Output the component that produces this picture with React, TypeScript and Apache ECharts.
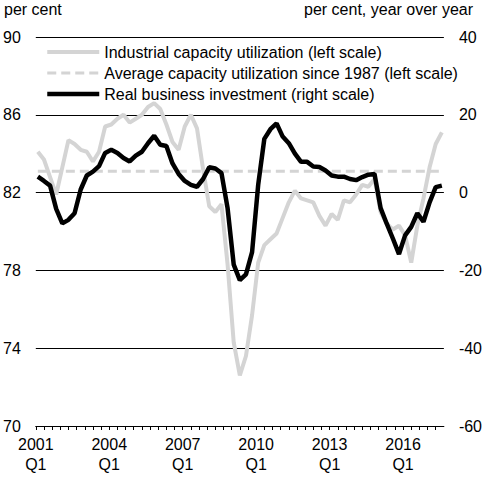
import React, { useEffect, useRef } from "react";
import * as echarts from "echarts";

// Quarterly data, 2001 Q1 .. 2017 Q3
const startYear = 2001;
const capacityUtilization = [
  84.1, 83.7, 82.8, 81.9, 83.3, 84.7, 84.5, 84.2, 84.1, 83.6,
  84.1, 85.4, 85.5, 85.8, 86.0, 85.6, 85.8, 86.0, 86.4, 86.6,
  86.3, 85.5, 84.6, 84.2, 85.4, 86.0, 85.3, 83.2, 81.3, 81.0,
  81.4, 78.3, 74.3, 72.6, 73.6, 75.7, 78.4, 79.3, 79.6, 79.9,
  80.7, 81.5, 82.1, 81.7, 81.6, 81.5, 80.8, 80.3, 80.9, 80.6,
  81.6, 81.5, 81.9, 82.4, 82.3, 82.7, 81.0, 80.4, 80.1, 80.3,
  79.8, 78.4, 80.3, 81.7, 83.3, 84.5, 85.1,
];
const businessInvestment = [
  4.1, 3.0, 1.8, -4.2, -7.9, -7.0, -5.3, 0.8, 4.4, 5.4,
  6.8, 10.2, 11.0, 10.2, 8.9, 8.0, 9.5, 10.5, 12.7, 14.6,
  12.3, 12.0, 7.5, 4.8, 3.0, 2.0, 1.5, 3.5, 6.5, 6.2,
  5.0, -4.0, -18.5, -22.5, -21.0, -15.3, 2.0, 13.8, 16.3, 17.8,
  14.4, 12.7, 10.0, 7.9, 7.9, 6.7, 6.6, 5.7, 4.4, 4.1,
  4.1, 3.5, 3.2, 4.0, 4.6, 4.8, -4.0, -8.0, -11.8, -15.8,
  -11.0, -8.8, -5.3, -7.5, -2.5, 1.4, 1.8,
];
const averageCapacity = 83.1;
const labelYears = [2001, 2004, 2007, 2010, 2013, 2016];

const seriesNames = [
  "Industrial capacity utilization (left scale)",
  "Average capacity utilization since 1987 (left scale)",
  "Real business investment (right scale)",
];

const FONT = "'Liberation Sans', Arial, sans-serif";

// month offset (from Jan 2001) of the middle of quarter i
const monthOf = (i: number) => i * 3 + 1;

export default function App() {
  const ref = useRef<HTMLDivElement>(null);

  useEffect(() => {
    if (!ref.current) return;
    const chart = echarts.init(ref.current, undefined, { renderer: "svg" });
    const last = capacityUtilization.length - 1;

    chart.setOption({
      animation: false,
      backgroundColor: "#ffffff",
      textStyle: { fontFamily: FONT, color: "#000" },
      grid: { left: 35, right: 40, top: 37, bottom: 59, containLabel: false },
      legend: {
        orient: "vertical",
        left: 40,
        top: 39,
        itemWidth: 52,
        itemHeight: 14,
        itemGap: 5,
        itemStyle: { opacity: 0 },
        textStyle: { fontFamily: FONT, fontSize: 16, color: "#000" },
        data: [
          { name: seriesNames[0], lineStyle: { width: 4 } },
          { name: seriesNames[1], lineStyle: { width: 3 } },
          { name: seriesNames[2], lineStyle: { width: 4.5 } },
        ],
        selectedMode: false,
      },
      xAxis: {
        type: "value",
        min: 0,
        max: 200,
        interval: 4,
        axisLine: { show: true, onZero: false, lineStyle: { color: "#000", width: 1 } },
        axisTick: { show: true, inside: false, length: 4, lineStyle: { color: "#000" } },
        splitLine: { show: false },
        axisLabel: {
          margin: 8,
          fontSize: 16,
          lineHeight: 20,
          color: "#000",
          fontFamily: FONT,
          showMinLabel: true,
          showMaxLabel: false,
          formatter: (v: number) => {
            const y = startYear + v / 12;
            return labelYears.includes(y) ? `${y}\nQ1` : "";
          },
        },
      },
      yAxis: [
        {
          type: "value",
          min: 70,
          max: 90,
          interval: 4,
          position: "left",
          axisLine: { show: false },
          axisTick: { show: false },
          splitLine: { show: true, lineStyle: { color: "#000", width: 1 } },
          axisLabel: { margin: 15, fontSize: 16, color: "#000", fontFamily: FONT },
        },
        {
          type: "value",
          min: -60,
          max: 40,
          interval: 20,
          position: "right",
          axisLine: { show: false },
          axisTick: { show: false },
          splitLine: { show: false },
          axisLabel: { margin: 15, fontSize: 16, color: "#000", fontFamily: FONT },
        },
      ],
      graphic: [
        {
          type: "text",
          left: 4,
          top: 1,
          style: { text: "per cent", font: `16px ${FONT}`, fill: "#000" },
        },
        {
          type: "text",
          right: 12,
          top: 1,
          style: { text: "per cent, year over year", font: `16px ${FONT}`, fill: "#000" },
        },
      ],
      series: [
        {
          name: seriesNames[1],
          type: "line",
          yAxisIndex: 0,
          symbol: "none",
          z: 2,
          lineStyle: { color: "#d4d4d4", width: 3, type: [9, 5] },
          itemStyle: { color: "#d4d4d4" },
          data: [
            [monthOf(0), averageCapacity],
            [monthOf(last), averageCapacity],
          ],
        },
        {
          name: seriesNames[0],
          type: "line",
          yAxisIndex: 0,
          symbol: "none",
          z: 3,
          lineStyle: { color: "#d4d4d4", width: 4 },
          itemStyle: { color: "#d4d4d4" },
          data: capacityUtilization.map((v, i) => [monthOf(i), v]),
        },
        {
          name: seriesNames[2],
          type: "line",
          yAxisIndex: 1,
          symbol: "none",
          z: 4,
          lineStyle: { color: "#000", width: 4.5 },
          itemStyle: { color: "#000" },
          data: businessInvestment.map((v, i) => [monthOf(i), v]),
        },
      ],
    });

    return () => chart.dispose();
  }, []);

  return (
    <div
      ref={ref}
      style={{ position: "fixed", left: 0, top: 0, width: 485, height: 485, background: "#fff" }}
    />
  );
}
